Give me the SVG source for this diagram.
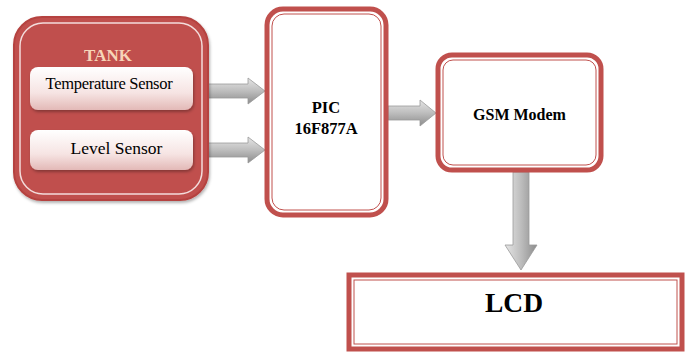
<svg xmlns="http://www.w3.org/2000/svg" width="688" height="353" viewBox="0 0 688 353">
<defs>
<linearGradient id="sens" x1="0" y1="0" x2="0" y2="1">
<stop offset="0" stop-color="#ffffff"/>
<stop offset="0.6" stop-color="#f6e4e3"/>
<stop offset="1" stop-color="#e3b9b7"/>
</linearGradient>
<linearGradient id="harr" x1="0" y1="0" x2="0" y2="1">
<stop offset="0" stop-color="#e6e6e6"/>
<stop offset="0.5" stop-color="#bdbdbd"/>
<stop offset="1" stop-color="#8c8c8c"/>
</linearGradient>
<linearGradient id="varr" x1="0" y1="0" x2="1" y2="0">
<stop offset="0" stop-color="#e6e6e6"/>
<stop offset="0.5" stop-color="#bdbdbd"/>
<stop offset="1" stop-color="#8c8c8c"/>
</linearGradient>
<filter id="sh" x="-10%" y="-10%" width="130%" height="130%">
<feDropShadow dx="1" dy="2" stdDeviation="1.5" flood-color="#000" flood-opacity="0.3"/>
</filter>
</defs>
<style>
.outer{fill:#ffffff;stroke:#c0504d;stroke-width:5}
.inner{fill:none;stroke:#c0504d;stroke-width:1}
.b{font-weight:bold}
.arr{stroke:#9a9a9a;stroke-width:0.8}
</style>
<rect width="688" height="353" fill="#ffffff"/>
<g id="connectors">
<path class="arr" fill="url(#harr)" d="M208,84 H248 V78 L265,91 L248,104 V98 H208 Z"/>
<path class="arr" fill="url(#harr)" d="M208,143 H248 V137 L265,150 L248,163 V157 H208 Z"/>
<path class="arr" fill="url(#harr)" d="M388,106 H420 V100 L436,113 L420,126 V120 H388 Z"/>
<path class="arr" fill="url(#varr)" d="M513,172 V245 H505 L521,270 L537,245 H529 V172 Z"/>
</g>
<g font-family="'Liberation Serif', 'Times New Roman', serif" text-anchor="middle">
<g id="tank">
<rect x="14" y="17" width="194" height="183" rx="28" fill="#c0504d" stroke="#b5423f" stroke-width="2" filter="url(#sh)"/>
<rect x="20" y="23" width="182" height="171" rx="23" fill="none" stroke="#f3dcdb" stroke-width="1.5"/>
<text class="b" x="108" y="61" font-size="17" fill="#f7d5b8">TANK</text>
</g>
<g id="temp-sensor">
<rect x="30" y="67" width="163" height="43" rx="8" fill="url(#sens)" filter="url(#sh)"/>
<text x="109" y="89" font-size="16.5" letter-spacing="-0.3">Temperature Sensor</text>
</g>
<g id="level-sensor">
<rect x="30" y="130" width="163" height="40" rx="8" fill="url(#sens)" filter="url(#sh)"/>
<text x="116.5" y="154" font-size="17.5">Level Sensor</text>
</g>
<g id="pic">
<rect x="267" y="9" width="119" height="206" rx="16" class="outer"/>
<rect x="272" y="14" width="109" height="196" rx="12" class="inner"/>
<text class="b" x="326" y="113" font-size="16.5">PIC</text>
<text class="b" x="326" y="134" font-size="16.5">16F877A</text>
</g>
<g id="gsm">
<rect x="438" y="55" width="163" height="115" rx="14" class="outer"/>
<rect x="443" y="60" width="153" height="105" rx="10" class="inner"/>
<text class="b" x="519.5" y="120" font-size="16">GSM Modem</text>
</g>
<g id="lcd">
<rect x="349" y="275" width="333" height="74" class="outer"/>
<rect x="354" y="280" width="323" height="64" class="inner"/>
<text class="b" x="514" y="312" font-size="27.5">LCD</text>
</g>
</g>
</svg>
